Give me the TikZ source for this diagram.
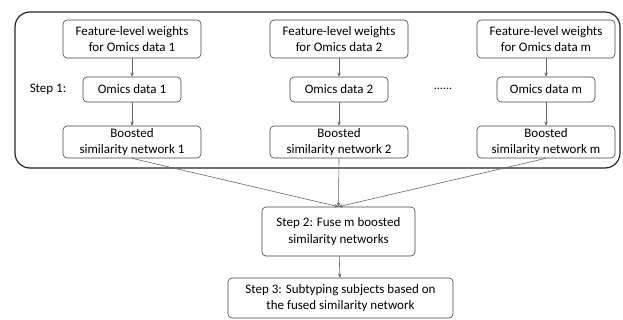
\documentclass[tikz,border=0pt]{standalone}
\usepackage{fontspec}
\setmainfont{Carlito}
\usetikzlibrary{arrows.meta}

\tikzset{
  box/.style={draw=black!75, rounded corners=4pt, align=center, inner sep=0pt,
    font=\fontsize{13}{16.5}\selectfont},
  link/.style={draw=black!60, -{Stealth[length=4pt,width=3.5pt]}},
}

\begin{document}
\begin{tikzpicture}[x=1pt, y=-1pt, line width=0.6pt]

  \useasboundingbox (0,0) rectangle (623,320);

  \def\bw{138}  % box width
  \def\ow{98}   % omics box width

  % ----------------------------------------------------------------
  % Step 1: one column per omics data type
  % ----------------------------------------------------------------
  \draw[black!85, line width=1.2pt, rounded corners=15pt] (15,12) rectangle (620,168);

  \node (step1) at (48,89.5) {\fontsize{13}{16.5}\selectfont Step 1:};
  \node (dots) at (443,89) {\fontsize{12}{16}\selectfont ......};

  \foreach \c/\x/\k in {a/132/1, b/339/2, c/546/m} {
    \node[box, minimum width=\bw, minimum height=38] (w\c) at (\x,39)
      {Feature-level weights\\for Omics data \k};
    \node[box, minimum width=\ow, minimum height=25] (o\c) at (\x,89.5)
      {Omics data \k};
    \node[box, minimum width=\bw, minimum height=32] (s\c) at (\x,142)
      {Boosted\\similarity network \k};
    \draw[link] (w\c) -- (o\c);
    \draw[link] (o\c) -- (s\c);
  }

  % ----------------------------------------------------------------
  % Steps 2 and 3
  % ----------------------------------------------------------------
  \node[box, minimum width=153, minimum height=49] (fuse) at (338.5,231.5)
    {Step 2: Fuse m boosted\\similarity networks};
  \node[box, minimum width=225, minimum height=40] (subtype) at (340.5,298)
    {Step 3: Subtyping subjects based on\\the fused similarity network};

  \foreach \c in {a,b,c} {
    \draw[link] (s\c.south) -- (fuse.north);
  }
  \draw[link] (fuse) -- (subtype);

\end{tikzpicture}
\end{document}
